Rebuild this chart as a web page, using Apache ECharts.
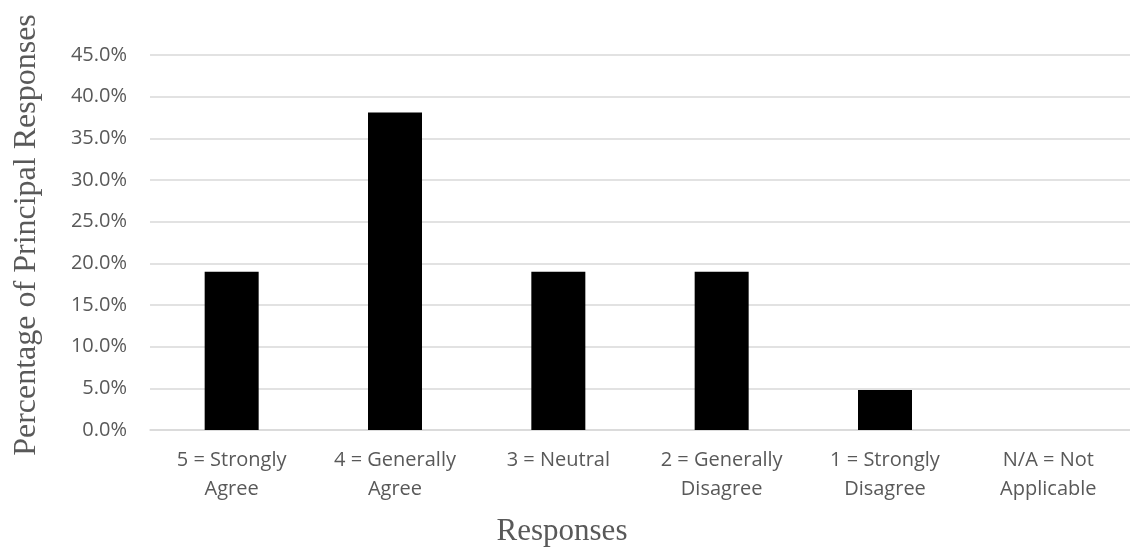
<!DOCTYPE html>
<html>
<head>
<meta charset="utf-8">
<script src="https://cdn.jsdelivr.net/npm/echarts@6/dist/echarts.min.js"></script>
<style>
  html, body { margin: 0; padding: 0; background: #fff; }
  #chart { width: 1130px; height: 550px; }
</style>
</head>
<body>
<div id="chart"></div>
<script>
// Survey responses (share of principals choosing each option)
const categories = [
  '5 = Strongly\nAgree',
  '4 = Generally\nAgree',
  '3 = Neutral',
  '2 = Generally\nDisagree',
  '1 = Strongly\nDisagree',
  'N/A = Not\nApplicable'
];
const percentages = [19.0, 38.1, 19.0, 19.0, 4.8, 0.0];
const yTicks = { min: 0, max: 45, interval: 5 };
const yTitle = 'Percentage of Principal Responses';
const xTitle = 'Responses';

const labelColor = '#595959';
const sansFont = '"Open Sans", "Noto Sans", sans-serif';
const serifFont = '"Liberation Serif", "DejaVu Serif", serif';

const chart = echarts.init(document.getElementById('chart'), null, { renderer: 'canvas' });

chart.setOption({
  animation: false,
  backgroundColor: '#ffffff',
  grid: { left: 150, right: -6, top: 55, bottom: 120, containLabel: false },
  xAxis: {
    type: 'category',
    data: categories,
    axisLine: { show: true, lineStyle: { color: '#d9d9d9', width: 1.5 } },
    axisTick: { show: false },
    axisLabel: {
      color: labelColor,
      fontFamily: sansFont,
      fontSize: 20,
      lineHeight: 29,
      margin: 16,
      interval: 0,
      verticalAlign: 'top'
    },
    splitLine: { show: false }
  },
  yAxis: {
    type: 'value',
    min: yTicks.min,
    max: yTicks.max,
    interval: yTicks.interval,
    axisLine: { show: false },
    axisTick: { show: false },
    axisLabel: {
      color: labelColor,
      fontFamily: sansFont,
      fontSize: 20,
      margin: 23,
      formatter: v => v.toFixed(1) + '%'
    },
    splitLine: { show: true, lineStyle: { color: '#d9d9d9', width: 1.5 } }
  },
  graphic: [
    {
      // vertical axis title, reading bottom to top
      type: 'text',
      x: 27,
      y: 235,
      rotation: Math.PI / 2,
      style: {
        text: yTitle,
        fill: labelColor,
        font: '32px ' + serifFont,
        textAlign: 'center',
        textVerticalAlign: 'middle'
      }
    },
    {
      type: 'text',
      x: 562,
      y: 532,
      style: {
        text: xTitle,
        fill: labelColor,
        font: '31px ' + serifFont,
        textAlign: 'center',
        textVerticalAlign: 'middle'
      }
    }
  ],
  series: [
    {
      type: 'bar',
      data: percentages,
      barWidth: 54,
      itemStyle: { color: '#000000' },
      silent: true
    }
  ]
});
</script>
</body>
</html>
